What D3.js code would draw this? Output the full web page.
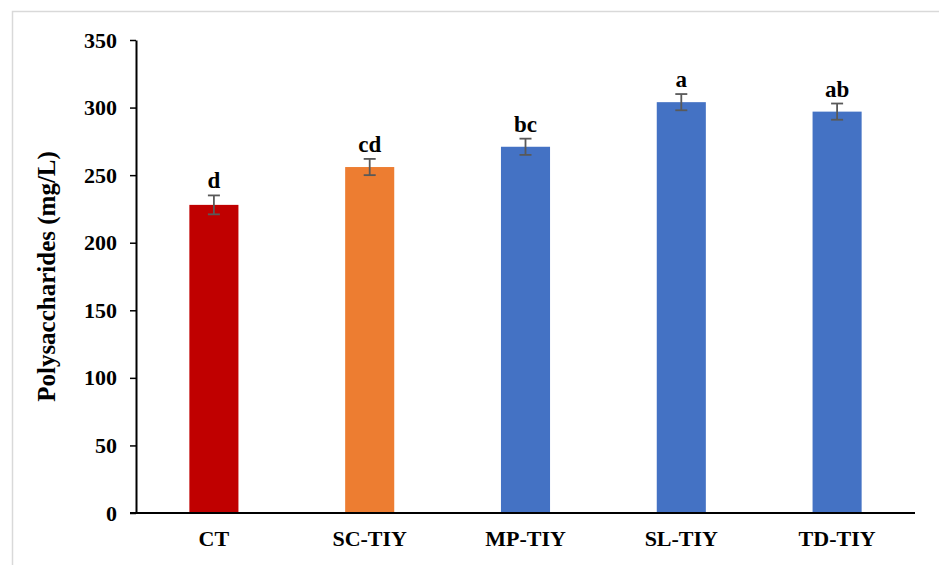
<!DOCTYPE html>
<html>
<head>
<meta charset="utf-8">
<script src="https://cdn.jsdelivr.net/npm/d3@7"></script>
<style>
  html, body { margin: 0; padding: 0; background: #fff; }
  svg { display: block; }
  text { font-family: "Liberation Serif", "Times New Roman", serif; font-weight: bold; fill: #000; }
</style>
</head>
<body>
<svg id="chart" width="939" height="565"></svg>
<script>
// Polysaccharide content per treatment
const categories = ["CT", "SC-TIY", "MP-TIY", "SL-TIY", "TD-TIY"];
const values = [228, 256, 271, 304, 297];
const errors = [7, 6, 6, 6, 6];
const groupLetters = ["d", "cd", "bc", "a", "ab"];
const barColors = ["#C00000", "#ED7D31", "#4472C4", "#4472C4", "#4472C4"];
const yTicks = [0, 50, 100, 150, 200, 250, 300, 350];
const yTitle = "Polysaccharides (mg/L)";

const svg = d3.select("#chart");

// Figure frame
svg.append("rect")
  .attr("x", 12.5).attr("y", 11.5)
  .attr("width", 940).attr("height", 570)
  .attr("fill", "none")
  .attr("stroke", "#d9d9d9")
  .attr("stroke-width", 1.5);

const plotLeft = 136, plotRight = 915, plotTop = 40, plotBottom = 513;

const x = d3.scaleBand()
  .domain(categories)
  .range([plotLeft, plotRight])
  .paddingInner(0.685)
  .paddingOuter(0.3425);

const y = d3.scaleLinear()
  .domain([0, 350])
  .range([plotBottom, plotTop]);

// Bars
svg.append("g").selectAll("rect")
  .data(categories)
  .join("rect")
  .attr("x", d => x(d))
  .attr("y", (d, i) => y(values[i]))
  .attr("width", x.bandwidth())
  .attr("height", (d, i) => y(0) - y(values[i]))
  .attr("fill", (d, i) => barColors[i]);

// Error bars
const eg = svg.append("g")
  .attr("stroke", "#595959")
  .attr("stroke-width", 1.8)
  .attr("fill", "none");
categories.forEach((c, i) => {
  const cx = x(c) + x.bandwidth() / 2;
  const hi = y(values[i] + errors[i]);
  const lo = y(values[i] - errors[i]);
  eg.append("line").attr("x1", cx).attr("x2", cx).attr("y1", hi).attr("y2", lo);
  eg.append("line").attr("x1", cx - 6).attr("x2", cx + 6).attr("y1", hi).attr("y2", hi);
  eg.append("line").attr("x1", cx - 6).attr("x2", cx + 6).attr("y1", lo).attr("y2", lo);
});

// Significance letters
svg.append("g").selectAll("text")
  .data(categories)
  .join("text")
  .attr("x", d => x(d) + x.bandwidth() / 2)
  .attr("y", (d, i) => y(values[i] + errors[i]) - 7)
  .attr("text-anchor", "middle")
  .attr("font-size", 23)
  .text((d, i) => groupLetters[i]);

// Y axis
const yAxis = svg.append("g")
  .attr("transform", `translate(${plotLeft},0)`)
  .call(d3.axisLeft(y).tickValues(yTicks).tickSize(6).tickPadding(13).tickSizeOuter(0));
yAxis.select(".domain").attr("stroke", "#000").attr("stroke-width", 2);
yAxis.selectAll(".tick line").attr("stroke", "#000").attr("stroke-width", 1.5);
yAxis.selectAll(".tick text")
  .attr("font-size", 22)
  .attr("font-family", "Liberation Serif, Times New Roman, serif")
  .attr("font-weight", "bold")
  .attr("fill", "#000");

// X axis
const xAxis = svg.append("g")
  .attr("transform", `translate(0,${plotBottom})`)
  .call(d3.axisBottom(x).tickSize(0).tickPadding(17).tickSizeOuter(0));
xAxis.select(".domain")
  .attr("d", `M${plotLeft - 6},0H${plotRight}`)
  .attr("stroke", "#000").attr("stroke-width", 2);
xAxis.selectAll(".tick text")
  .attr("font-size", 22)
  .attr("font-family", "Liberation Serif, Times New Roman, serif")
  .attr("font-weight", "bold")
  .attr("fill", "#000");

// Y title
svg.append("text")
  .attr("transform", `translate(55,${(plotTop + plotBottom) / 2}) rotate(-90)`)
  .attr("text-anchor", "middle")
  .attr("font-size", 25)
  .text(yTitle);
</script>
</body>
</html>
